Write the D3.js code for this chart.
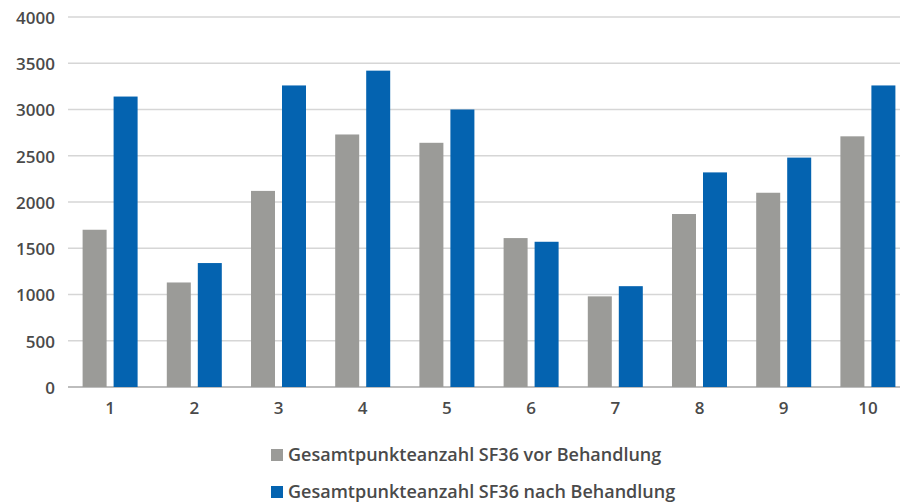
<!DOCTYPE html>
<html>
<head>
<meta charset="utf-8">
<script src="https://cdn.jsdelivr.net/npm/d3@7"></script>
<style>
  html, body { margin: 0; padding: 0; background: #fff; }
  svg { display: block; }
  text { font-family: "Open Sans", "DejaVu Sans", sans-serif; fill: #4a4a4a; }
</style>
</head>
<body>
<svg id="chart" width="900" height="502"></svg>
<script>
const categories = ["1", "2", "3", "4", "5", "6", "7", "8", "9", "10"];
const seriesNames = ["Gesamtpunkteanzahl SF36 vor Behandlung", "Gesamtpunkteanzahl SF36 nach Behandlung"];
const vorValues = [1700, 1130, 2120, 2730, 2640, 1610, 980, 1870, 2100, 2710];
const nachValues = [3140, 1340, 3260, 3420, 3000, 1570, 1090, 2320, 2480, 3260];
const yTicks = [0, 500, 1000, 1500, 2000, 2500, 3000, 3500, 4000];
const colors = ["#9b9b98", "#0463b0"];

const svg = d3.select("#chart");
const mLeft = 68, mRight = 910, mTop = 17, mBottom = 387;

const x = d3.scaleBand().domain(categories).range([mLeft, mRight]).paddingInner(0).paddingOuter(0);
const step = x.bandwidth();
const barW = 24, gap = 7;
const y = d3.scaleLinear().domain([0, 4000]).range([mBottom, mTop]);

// gridlines
svg.append("g").selectAll("line").data(yTicks).join("line")
  .attr("x1", mLeft).attr("x2", 900)
  .attr("y1", d => y(d)).attr("y2", d => y(d))
  .attr("stroke", d => d === 0 ? "#bdbdbd" : "#d6d6d6").attr("stroke-width", d => d === 0 ? 2 : 1.6);

// y axis labels
const yAxis = d3.axisLeft(y).tickValues(yTicks).tickSize(0).tickPadding(0).tickFormat(d3.format("d"));
const yg = svg.append("g").attr("transform", `translate(${55},1)`).call(yAxis);
yg.select(".domain").remove();
yg.selectAll("text").attr("font-size", 17).attr("font-weight", 600).attr("fill", "#4a4a4a")
  .style("font-family", '"Open Sans", sans-serif');

// x axis labels
const xAxis = d3.axisBottom(x).tickSize(0).tickPadding(0);
const xg = svg.append("g").attr("transform", `translate(0,${402})`).call(xAxis);
xg.select(".domain").remove();
xg.selectAll("text").attr("font-size", 17).attr("font-weight", 600).attr("fill", "#4a4a4a")
  .attr("dy", "0.71em").style("font-family", '"Open Sans", sans-serif');

// bars
const groupOffset = (step - (2 * barW + gap)) / 2;
const data = categories.map((c, i) => ({ c, v: [vorValues[i], nachValues[i]] }));
const groups = svg.append("g").selectAll("g").data(data).join("g")
  .attr("transform", d => `translate(${x(d.c) + groupOffset},0)`);
groups.selectAll("rect").data(d => d.v).join("rect")
  .attr("x", (d, j) => j * (barW + gap))
  .attr("width", barW)
  .attr("y", d => y(d))
  .attr("height", d => y(0) - y(d))
  .attr("fill", (d, j) => colors[j]);

// legend
const legend = svg.append("g");
const legendY = [455, 492];
seriesNames.forEach((name, i) => {
  legend.append("rect").attr("x", 271).attr("y", legendY[i] - 6).attr("width", 12).attr("height", 12).attr("fill", colors[i]);
  legend.append("text").attr("x", 288).attr("y", legendY[i]).attr("dy", "0.35em")
    .attr("font-size", 18).attr("font-weight", 600).attr("fill", "#4a4a4a").text(name);
});
</script>
</body>
</html>
